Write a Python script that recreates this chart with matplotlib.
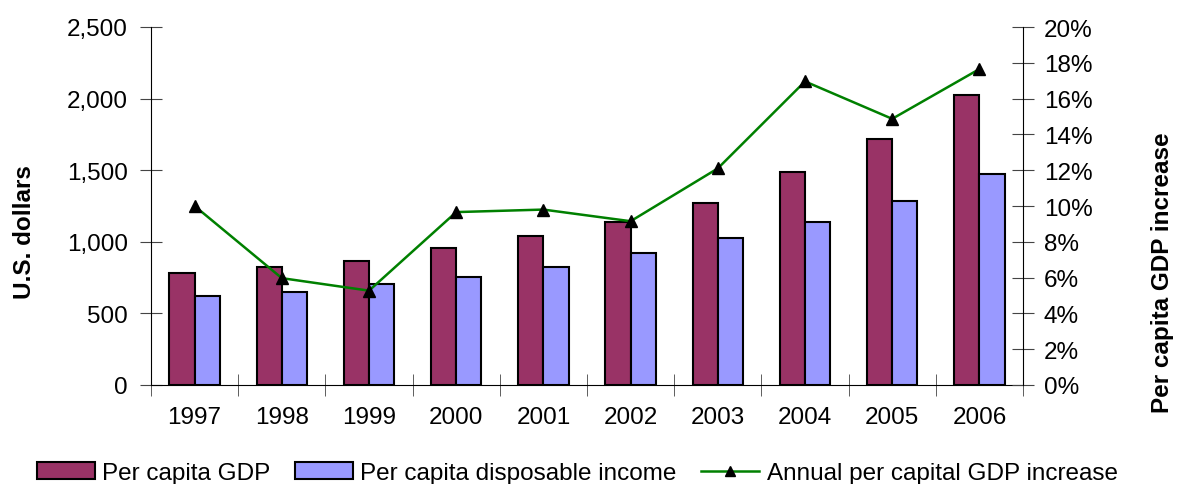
import numpy as np
import matplotlib
matplotlib.use("Agg")
import matplotlib.pyplot as plt
from matplotlib.ticker import FuncFormatter, MultipleLocator, FixedLocator

plt.rcParams['font.family'] = ['Liberation Sans', 'DejaVu Sans']

# data
years = ['1997', '1998', '1999', '2000', '2001', '2002', '2003', '2004', '2005', '2006']
gdp = [781, 827, 867, 955, 1039, 1141, 1272, 1487, 1719, 2022]
income = [622, 650, 708, 753, 825, 922, 1025, 1141, 1286, 1475]
gdp_increase = [10.0, 5.97, 5.27, 9.66, 9.8, 9.15, 12.1, 16.96, 14.87, 17.65]

FS = 17.5

fig = plt.figure(figsize=(11.78, 4.85), dpi=100)
ax = fig.add_axes([151/1178, (485-386)/485, (1023-151)/1178, (386-28)/485])
ax2 = ax.twinx()

x = np.arange(len(years))
w = 0.29
ax.bar(x - w/2, gdp, w, color='#993366', edgecolor='black', linewidth=1.5,
       label='Per capita GDP', zorder=2)
ax.bar(x + w/2, income, w, color='#9999FF', edgecolor='black', linewidth=1.5,
       label='Per capita disposable income', zorder=2)
ax2.plot(x, gdp_increase, color='#008000', linewidth=1.8, marker='^',
         markersize=9, markerfacecolor='black', markeredgecolor='black',
         label='Annual per capital GDP increase')

ax.set_xlim(-0.5, len(years) - 0.5)
ax.set_ylim(0, 2500)
ax2.set_ylim(0, 20)

ax.set_xticks(x)
ax.set_xticklabels(years)
ax.xaxis.set_minor_locator(FixedLocator(np.arange(-0.5, len(years), 1.0)))
ax.tick_params(axis='x', which='major', length=0, pad=15, labelsize=FS)
ax.tick_params(axis='x', which='minor', length=16, direction='inout', color='#444444')

ax.yaxis.set_major_locator(MultipleLocator(500))
ax.yaxis.set_major_formatter(FuncFormatter(lambda v, p: f'{int(v):,}'))
ax.tick_params(axis='y', length=16, direction='inout', labelsize=FS, pad=8.5, color='#444444')

ax2.yaxis.set_major_locator(MultipleLocator(2))
ax2.yaxis.set_major_formatter(FuncFormatter(lambda v, p: f'{int(v)}%'))
ax2.tick_params(axis='y', length=16, direction='inout', labelsize=FS, pad=7, color='#444444')

for a in (ax, ax2):
    a.spines['top'].set_visible(False)
ax.spines['right'].set_visible(False)
ax2.spines['left'].set_visible(False)
ax2.spines['bottom'].set_visible(False)

fig.text(25/1178, 1 - 232/485, 'U.S. dollars', rotation=90, fontsize=FS,
         fontweight='bold', ha='center', va='center')
fig.text(1163/1178, 1 - 273/485, 'Per capita GDP increase', rotation=90, fontsize=FS,
         fontweight='bold', ha='center', va='center')

h1, l1 = ax.get_legend_handles_labels()
h2, l2 = ax2.get_legend_handles_labels()
leg = fig.legend(h1 + h2, l1 + l2, loc='center', bbox_to_anchor=(0.490, 1 - 474/485),
                 ncol=3, frameon=False, fontsize=FS, handlelength=2.4, handletextpad=0.3,
                 columnspacing=1.0, handleheight=0.65, borderpad=0.1)
leg.legend_handles[2].set_markersize(7)

fig.savefig('out.png', dpi=100)
